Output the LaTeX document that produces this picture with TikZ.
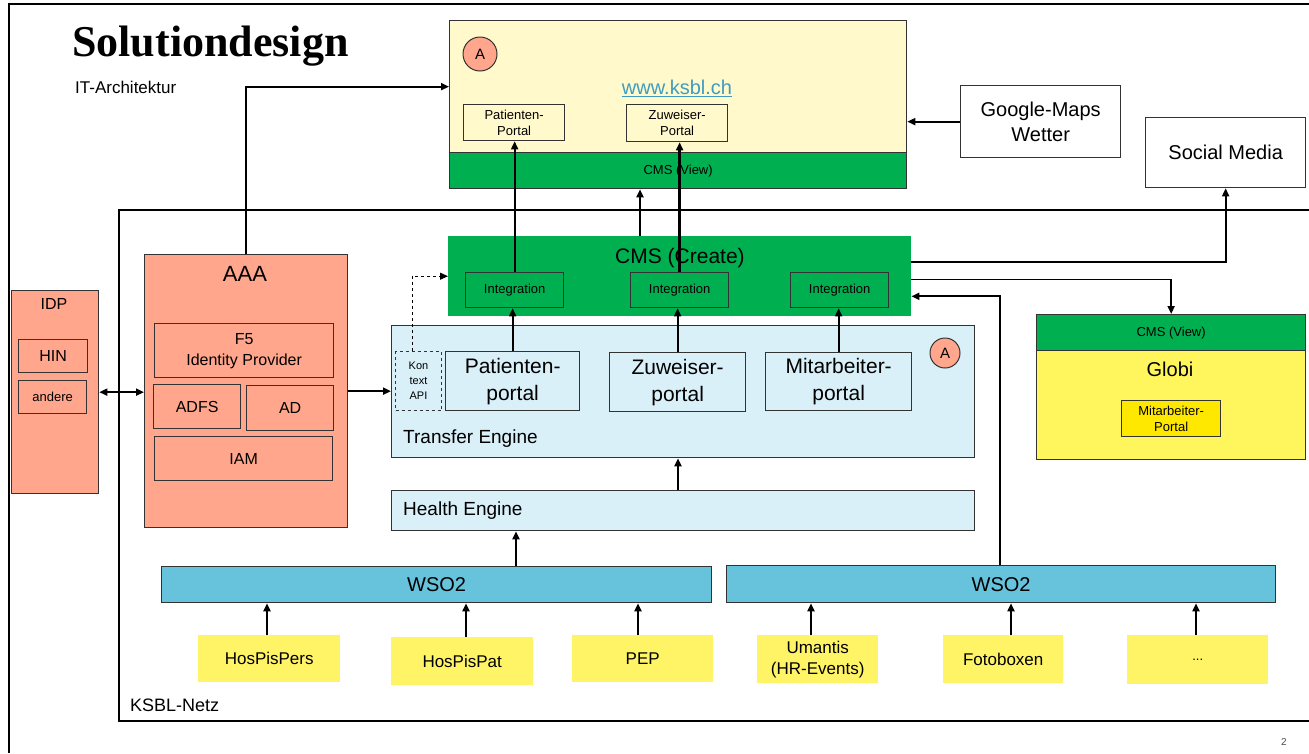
\documentclass[tikz,border=0pt]{standalone}
\usepackage{fontspec}
\setmainfont{Liberation Sans}
\newfontfamily\titlefont{Liberation Serif}
\usetikzlibrary{arrows.meta,calc}
\definecolor{salmon}{HTML}{FFA68C}
\definecolor{wwwyellow}{HTML}{FFF9CC}
\definecolor{cmsgreen}{HTML}{00B050}
\definecolor{lightblue}{HTML}{DAF0F8}
\definecolor{wsoblue}{HTML}{67C2DC}
\definecolor{srcyellow}{HTML}{FFF466}
\definecolor{globiyellow}{HTML}{FFF55C}
\definecolor{mpyellow}{HTML}{FFE800}
\definecolor{linkblue}{HTML}{3F9CC0}
\definecolor{edge}{HTML}{333333}
\newcommand\fsz[2]{\fontsize{#1}{#2}\selectfont}
\newcommand\bx[7]{\node[#6, anchor=north west, minimum width={(#4-#2)*1pt}, minimum height={(#5-#3)*1pt}] (#1) at (#2,#3) {#7};}
\begin{document}
\begin{tikzpicture}[x=1pt,y=-1pt,
  box/.style={draw=edge, line width=1.3pt, inner sep=0pt, align=center},
  srcbox/.style={fill=srcyellow, inner sep=0pt, align=center, font=\fsz{17}{21}},
  arr/.style={line width=1.8pt, -{Triangle[length=8pt,width=7pt]}},
  darr/.style={line width=1.8pt, {Triangle[length=8pt,width=7pt]}-{Triangle[length=8pt,width=7pt]}},
  circA/.style={circle, draw=edge, line width=1pt, fill=salmon, inner sep=0pt, font=\fsz{15}{18}}]
\useasboundingbox (0,0) rectangle (1309,753);
\fill[white] (0,0) rectangle (1309,753);
% slide frame
\draw[line width=1.8pt] (9,753) -- (9,4) -- (1309,4);
% KSBL frame
\draw[line width=2.6pt] (1309,210) -- (119,210) -- (119,721) -- (1309,721);
\node[anchor=west, inner sep=0pt, font=\fsz{18}{22}] (ksbl) at (130,705) {KSBL-Netz};
% title
\node[anchor=base west, inner sep=0pt, font=\titlefont\bfseries\fsz{44}{50}] (title) at (72,56) {Solutiondesign};
\node[anchor=west, inner sep=0pt, font=\fsz{17}{20}] (sub) at (75,87) {IT-Architektur};
% www box
\bx{www}{449}{20}{906}{152}{box, fill=wwwyellow}{}
\bx{cv}{449}{152}{906}{188}{box, fill=cmsgreen, font=\fsz{13}{16}}{CMS (View)}
\node[circA, minimum size=34pt] (a1) at (480,54) {A};
\node[inner sep=0pt, font=\fsz{20}{24}, text=linkblue] (url) at (677,88) {\underline{www.ksbl.ch}};
\bx{pp}{463}{104}{564}{140}{box, font=\fsz{13}{16}}{Patienten-\\Portal}
\bx{zp}{626}{104}{727}{141}{box, font=\fsz{13}{16}}{Zuweiser-\\Portal}
% Google / Social
\bx{gm}{960}{85}{1120}{157}{box, font=\fsz{20}{25}}{Google-Maps\\Wetter}
\bx{sm}{1145}{117}{1305}{187}{box, font=\fsz{20}{24}}{Social Media}
% CMS Create
\bx{cmsc}{448}{236}{911}{316}{fill=cmsgreen, inner sep=0pt}{}
\node[inner sep=0pt, font=\fsz{21}{25}] (cmsct) at (680,258) {CMS (Create)};
\bx{i1}{465}{272}{563}{307}{box, font=\fsz{13}{16}}{Integration}
\bx{i2}{630}{272}{728}{307}{box, font=\fsz{13}{16}}{Integration}
\bx{i3}{790}{272}{888}{307}{box, font=\fsz{13}{16}}{Integration}
% Transfer Engine
\bx{te}{391}{325}{974}{457}{box, fill=lightblue}{}
\node[anchor=west, inner sep=0pt, font=\fsz{19}{23}] (tet) at (403,439) {Transfer Engine};
\node[circA, minimum size=30pt] (a2) at (945,353) {A};
\bx{kapi}{395}{351}{441}{410}{draw=edge, dashed, line width=1pt, inner sep=0pt, align=center, font=\fsz{11}{15}}{Kon\\text\\API}
\bx{ppt}{445}{351}{579}{410}{box, font=\fsz{21}{27}}{Patienten-\\portal}
\bx{zpt}{609}{352}{745}{411}{box, font=\fsz{21}{27}}{Zuweiser-\\portal}
\bx{mpt}{765}{352}{911}{410}{box, font=\fsz{21}{27}}{Mitarbeiter-\\portal}
% Health Engine
\bx{he}{391}{490}{974}{530}{box, fill=lightblue}{}
\node[anchor=west, inner sep=0pt, font=\fsz{19}{23}] (het) at (403,511) {Health Engine};
% WSO2
\bx{wl}{161}{566}{711}{602}{box, fill=wsoblue, font=\fsz{20}{24}}{WSO2}
\bx{wr}{726}{565}{1275}{602}{box, fill=wsoblue, font=\fsz{20}{24}}{WSO2}
% sources
\bx{s1}{198}{635}{340}{682}{srcbox}{HosPisPers}
\bx{s2}{391}{637}{533}{685}{srcbox}{HosPisPat}
\bx{s3}{572}{635}{713}{682}{srcbox}{PEP}
\bx{s4}{757}{635}{878}{683}{srcbox}{Umantis\\(HR-Events)}
\bx{s5}{943}{635}{1063}{683}{srcbox}{Fotoboxen}
\bx{s6}{1127}{635}{1268}{684}{srcbox, font=\fsz{13}{16}}{...}
% Globi
\bx{gv}{1036}{314}{1305}{350}{box, fill=cmsgreen, font=\fsz{13}{16}}{CMS (View)}
\bx{gb}{1036}{350}{1305}{459}{box, fill=globiyellow}{}
\node[inner sep=0pt, font=\fsz{20}{24}] (gbt) at (1170,369) {Globi};
\bx{gmp}{1121}{400}{1220}{436}{box, fill=mpyellow, font=\fsz{13}{16}}{Mitarbeiter-\\Portal}
% IDP
\bx{idp}{11}{290}{98}{493}{box, fill=salmon}{}
\node[inner sep=0pt, font=\fsz{16}{19}] (idpt) at (54,304) {IDP};
\bx{hin}{18}{339}{87}{372}{box, font=\fsz{16}{19}}{HIN}
\bx{and}{18}{380}{86}{413}{box, font=\fsz{13}{16}}{andere}
% AAA
\bx{aaa}{144}{254}{347}{527}{box, fill=salmon}{}
\node[inner sep=0pt, font=\fsz{22}{26}] (aaat) at (245,274) {AAA};
\bx{f5}{154}{323}{333}{377}{box, font=\fsz{16}{21}}{F5\\Identity Provider}
\bx{adfs}{153}{384}{240}{428}{box, font=\fsz{16}{19}}{ADFS}
\bx{ad}{246}{385}{333}{430}{box, font=\fsz{16}{19}}{AD}
\bx{iam}{154}{436}{332}{480}{box, font=\fsz{16}{19}}{IAM}
% page number
\node[inner sep=0pt, font=\fsz{10}{12}, text=black!70] (pg) at (1284,742) {2};
% connectors
\draw[arr] (aaa.north) |- (www.west);
\draw[darr] (idp.east) -- (idp.east -| aaa.west);
\draw[arr] (aaa.east) -- (aaa.east -| te.west);
\draw[arr] (gm.west) -- (gm.west -| www.east);
\draw[arr] (i1.north) -- (i1.north |- pp.south);
\draw[arr, line width=2.4pt] (i2.north) -- (i2.north |- zp.south);
\draw[arr] (640,0 |- cmsc.north) -- (640,0 |- cv.south);
\draw[arr] (ppt.north) -- (ppt.north |- i1.south);
\draw[arr] (zpt.north) -- (zpt.north |- i2.south);
\draw[arr] (mpt.north) -- (mpt.north |- i3.south);
\draw[arr, dashed, line width=1pt] (412,0 |- kapi.north) |- (cmsc.west);
\draw[arr] (678,0 |- he.north) -- (678,0 |- te.south);
\draw[arr] (516,0 |- wl.north) -- (516,0 |- he.south);
\draw[arr] (1000,0 |- wr.north) |- ($(cmsc.north east)!0.75!(cmsc.south east)$);
\draw[arr] ($(cmsc.north east)!0.325!(cmsc.south east)$) -| (sm.south);
\draw[arr] ($(cmsc.north east)!0.54!(cmsc.south east)$) -| (gv.north);
\draw[arr] (267,0 |- s1.north) -- (267,0 |- wl.south);
\draw[arr] (466,0 |- s2.north) -- (466,0 |- wl.south);
\draw[arr] (638,0 |- s3.north) -- (638,0 |- wl.south);
\draw[arr] (811,0 |- s4.north) -- (811,0 |- wr.south);
\draw[arr] (1011,0 |- s5.north) -- (1011,0 |- wr.south);
\draw[arr] (1196,0 |- s6.north) -- (1196,0 |- wr.south);
\end{tikzpicture}
\end{document}
